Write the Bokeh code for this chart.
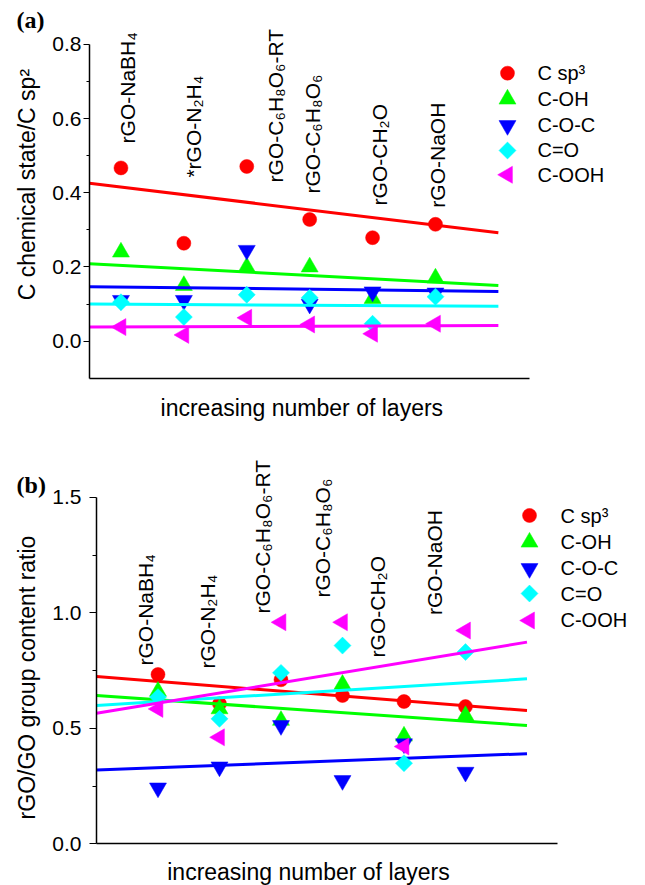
import numpy as np
from bokeh.plotting import figure
from bokeh.layouts import column
from bokeh.models import Range1d, FixedTicker, PrintfTickFormatter
from bokeh.core.properties import value
from bokeh.embed import file_html
from bokeh.resources import INLINE

# ---------------- data ----------------
series = ["C sp³", "C-OH", "C-O-C", "C=O", "C-OOH"]
colors = ["#FF0000", "#00FF00", "#0000FF", "#00FFFF", "#FF00FF"]
sample_pos = [1, 2, 3, 4, 5, 6]
samples_a = ["rGO-NaBH₄", "*rGO-N₂H₄", "rGO-C₆H₈O₆-RT", "rGO-C₆H₈O₆", "rGO-CH₂O", "rGO-NaOH"]
samples_b = ["rGO-NaBH₄", "rGO-N₂H₄", "rGO-C₆H₈O₆-RT", "rGO-C₆H₈O₆", "rGO-CH₂O", "rGO-NaOH"]

# panel (a): C chemical state / C sp2
a_csp3 = [0.467, 0.264, 0.471, 0.328, 0.279, 0.315]
a_coh = [0.240, 0.150, 0.200, 0.200, 0.115, 0.170]
a_coc = [0.110, 0.110, 0.245, 0.100, 0.133, 0.130]
a_co = [0.105, 0.065, 0.125, 0.117, 0.047, 0.120]
a_cooh = [0.038, 0.017, 0.063, 0.045, 0.020, 0.047]
a_fit_x = [0.5, 7.0]
a_fit_start = [0.426, 0.209, 0.147, 0.100, 0.038]
a_fit_end = [0.292, 0.150, 0.134, 0.094, 0.042]

# panel (b): rGO/GO group content ratio
b_csp3 = [0.733, 0.606, 0.710, 0.642, 0.616, 0.594]
b_coh = [0.660, 0.584, 0.534, 0.690, 0.466, 0.555]
b_coc = [0.242, 0.333, 0.512, 0.274, 0.433, 0.310]
b_co = [0.635, 0.541, 0.740, 0.858, 0.349, 0.830]
b_cooh = [0.584, 0.461, 0.959, 0.959, 0.421, 0.923]
b_fit_x = [0.0, 7.0]
b_fit_start = [0.724, 0.642, 0.320, 0.599, 0.565]
b_fit_end = [0.577, 0.512, 0.390, 0.714, 0.873]

# ---------------- styling ----------------
markers = ["circle", "triangle", "inverted_triangle", "square", "triangle"]
marker_angles = [0.0, 0.0, 0.0, np.pi / 4, np.pi / 2]
marker_sizes = [14, 17, 17, 12, 17]
SANS = "Liberation Sans"
SERIF = "Liberation Serif"


def make_fig(h, xr, yr):
    p = figure(width=645, height=h, output_backend="svg", toolbar_location=None,
               x_range=Range1d(*xr), y_range=Range1d(*yr),
               min_border_left=0, min_border_right=0, min_border_top=0,
               min_border_bottom=0)
    p.outline_line_color = None
    p.grid.visible = False
    p.background_fill_color = "white"
    p.border_fill_color = "white"
    return p


def style_axes(p, xb, yb, yticks, yminor, lab_standoff, tick_out, minor_out):
    xa = p.xaxis[0]
    xa.fixed_location = yb[0]
    xa.bounds = xb
    xa.ticker = FixedTicker(ticks=[])
    xa.major_label_text_font_size = "0px"
    xa.major_tick_out = 0
    xa.major_tick_in = 0
    xa.minor_tick_out = 0
    xa.minor_tick_in = 0
    xa.axis_line_width = 1.5
    xa.axis_line_color = "black"
    ya = p.yaxis[0]
    ya.fixed_location = xb[0]
    ya.bounds = yb
    ya.ticker = FixedTicker(ticks=yticks, minor_ticks=yminor)
    ya.formatter = PrintfTickFormatter(format="%.1f")
    ya.major_label_text_font = SANS
    ya.major_label_text_font_size = "21px"
    ya.major_label_text_color = "black"
    ya.major_label_standoff = lab_standoff
    ya.major_tick_out = tick_out
    ya.major_tick_in = 0
    ya.minor_tick_out = minor_out
    ya.minor_tick_in = 0
    ya.major_tick_line_width = 1.2
    ya.minor_tick_line_width = 1.2
    ya.major_tick_line_color = "black"
    ya.minor_tick_line_color = "black"
    ya.axis_line_width = 1.5
    ya.axis_line_color = "black"


def draw_series(p, values, fit_x, fit_start, fit_end):
    for i, vals in enumerate(values):
        p.scatter(x=sample_pos, y=vals, marker=markers[i], size=marker_sizes[i],
                  angle=marker_angles[i], fill_color=colors[i],
                  line_color=colors[i], line_width=0.5)
        p.line(x=fit_x, y=[fit_start[i], fit_end[i]], line_color=colors[i],
               line_width=3)


def add_texts(p, xs, ys, texts, angle, align, size, font=SANS, style="normal"):
    p.text(x=xs, y=ys, text=texts, angle=angle, text_align=align,
           text_baseline="middle", text_font=value(font),
           text_font_size=value(size), text_font_style=style, text_color="black")


def add_key(p, mx, tx, rows):
    # legend: one marker and one label per series
    for i in range(len(series)):
        p.scatter(x=[mx], y=[rows[i]], marker=markers[i], size=marker_sizes[i],
                  angle=marker_angles[i], fill_color=colors[i],
                  line_color=colors[i], line_width=0.5)
    add_texts(p, [tx] * len(series), rows, series, 0.0, "left", "20px")


# ---------------- panel (a) ----------------
pA = make_fig(440, (-0.915, 9.339), (-0.2677, 0.9183))
style_axes(pA, (0.5, 7.5), (-0.1, 0.8), [0.0, 0.2, 0.4, 0.6, 0.8],
           [0.1, 0.3, 0.5, 0.7], 2, 6, 3)
draw_series(pA, [a_csp3, a_coh, a_coc, a_co, a_cooh], a_fit_x, a_fit_start, a_fit_end)
add_texts(pA, [1.10, 2.16, 3.46, 4.05, 5.11, 6.03],
          [0.533, 0.441, 0.428, 0.398, 0.366, 0.360], samples_a, np.pi / 2, "left", "21px")
add_key(pA, 7.145, 7.622, [0.7224, 0.6523, 0.5814, 0.5140, 0.4485])
add_texts(pA, [-0.66], [0.867], ["(a)"], 0.0, "left", "24px", SERIF, "bold")
add_texts(pA, [-0.486], [0.422], ["C chemical state/C sp²"], np.pi / 2, "center", "23px")
add_texts(pA, [3.926], [-0.179], ["increasing  number of layers"], 0.0, "center", "23px")

# ---------------- panel (b) ----------------
pB = make_fig(445, (-1.561, 8.927), (-0.1805, 1.7459))
style_axes(pB, (0.0, 7.5), (0.0, 1.5), [0.0, 0.5, 1.0, 1.5],
           [0.25, 0.75, 1.25], 8, 7, 4)
draw_series(pB, [b_csp3, b_coh, b_coc, b_co, b_cooh], b_fit_x, b_fit_start, b_fit_end)
add_texts(pB, [0.80, 1.80, 2.70, 3.67, 4.57, 5.50],
          [0.772, 0.759, 0.997, 1.066, 0.807, 0.990], samples_b, np.pi / 2, "left", "21px")
add_key(pB, 7.041, 7.545, [1.4212, 1.3056, 1.1918, 1.0835, 0.9667])
add_texts(pB, [-1.30], [1.555], ["(b)"], 0.0, "left", "24px", SERIF, "bold")
add_texts(pB, [-1.122], [0.72], ["rGO/GO group content ratio"], np.pi / 2, "center", "23px")
add_texts(pB, [3.447], [-0.124], ["increasing number of layers"], 0.0, "center", "23px")

layout = column(pA, pB, spacing=0)
open("out.html", "w").write(file_html(layout, INLINE))
